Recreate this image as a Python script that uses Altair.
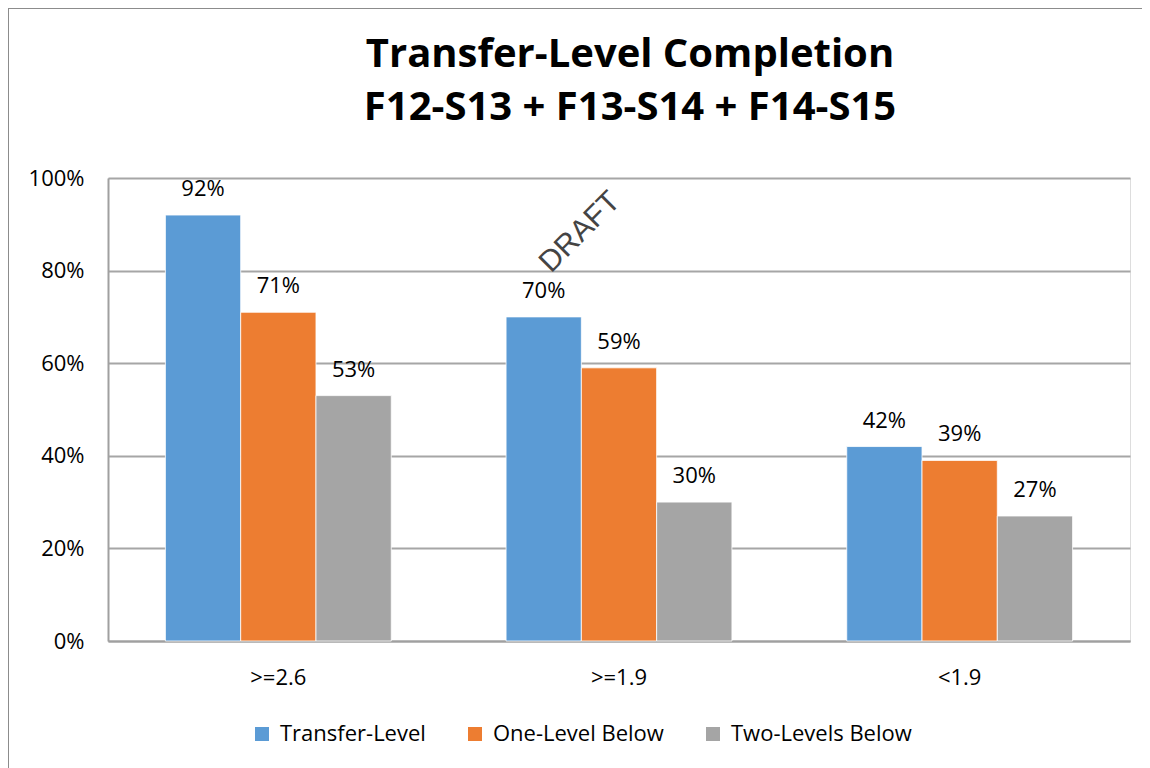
import altair as alt
import pandas as pd

groups = [">=2.6", ">=1.9", "<1.9"]
series = ["Transfer-Level", "One-Level Below", "Two-Levels Below"]
transfer_level = [92, 70, 42]
one_level_below = [71, 59, 39]
two_levels_below = [53, 30, 27]
colors = ["#5B9BD5", "#ED7D31", "#A5A5A5"]
y_ticks = [0, 20, 40, 60, 80, 100]

rows = []
for s, vals in zip(series, [transfer_level, one_level_below, two_levels_below]):
    for g, v in zip(groups, vals):
        rows.append({"group": g, "series": s, "value": v})
df = pd.DataFrame(rows)

FONT = "Liberation Sans Narrow, Open Sans, sans-serif"
LFONT = "Open Sans, sans-serif"

base = alt.Chart(df).encode(
    x=alt.X("group:N", sort=groups, title=None,
            scale=alt.Scale(paddingInner=0.337, paddingOuter=0.1685),
            axis=alt.Axis(labelAngle=0, labelFontSize=22, labelFont=LFONT,
                          labelColor="#000", labelPadding=26, ticks=False,
                          domainColor="#a0a0a0", domainWidth=2)),
    xOffset=alt.XOffset("series:N", sort=series,
                        scale=alt.Scale(paddingInner=0, paddingOuter=0)),
)

bars = base.mark_bar(stroke="white", strokeWidth=0.8).encode(
    y=alt.Y("value:Q", title=None,
            scale=alt.Scale(domain=[0, 100]),
            axis=alt.Axis(values=y_ticks, labelExpr="datum.value + '%'",
                          labelFontSize=22, labelFont=LFONT, labelColor="#000",
                          labelPadding=24, ticks=False, grid=True,
                          gridColor="#a6a6a6", gridWidth=1.8,
                          domainColor="#a0a0a0", domainWidth=2)),
    color=alt.Color("series:N", sort=series,
                    scale=alt.Scale(domain=series, range=colors),
                    legend=alt.Legend(title=None, orient="none", direction="horizontal",
                                      legendX=143, legendY=545,
                                      symbolType="square", symbolSize=196,
                                      symbolStrokeWidth=0, labelFontSize=22,
                                      labelFont=LFONT, labelColor="#000",
                                      labelLimit=400,
                                      columnPadding=38, labelOffset=7)),
)

labels = base.mark_text(fontSize=22, font=LFONT, color="#000", dy=-19,
                        baseline="alphabetic").encode(
    y=alt.Y("value:Q"),
    text=alt.Text("label:N"),
).transform_calculate(label="datum.value + '%'")

draft = alt.Chart(pd.DataFrame({"t": ["DRAFT"]})).mark_text(
    fontSize=30, font="Liberation Sans, sans-serif", color="#444", angle=315
).encode(x=alt.value(472), y=alt.value(54), text="t:N")

frame_top = alt.Chart(pd.DataFrame({"a": [0]})).mark_rule(
    color="#8c8c8c", strokeWidth=2
).encode(x=alt.value(-100), x2=alt.value(1040), y=alt.value(-170))
frame_left = alt.Chart(pd.DataFrame({"a": [0]})).mark_rule(
    color="#8c8c8c", strokeWidth=2
).encode(x=alt.value(-100), y=alt.value(-170), y2=alt.value(600))

chart = alt.layer(bars, labels, draft, frame_top, frame_left).properties(
    width=1022, height=463,
    autosize=alt.AutoSizeParams(type="none"),
    padding={"left": 100, "top": 170, "right": 12, "bottom": 127},
    title=alt.TitleParams(
        text=["Transfer-Level Completion", "F12-S13 + F13-S14 + F14-S15"],
        fontSize=40, font=FONT, fontWeight="bold", color="#000",
        lineHeight=53, anchor="middle", dx=11, offset=-121,
    ),
).configure_view(stroke=None).configure(background="white")

chart.save("out.html", embed_options={"renderer": "svg", "actions": False})
